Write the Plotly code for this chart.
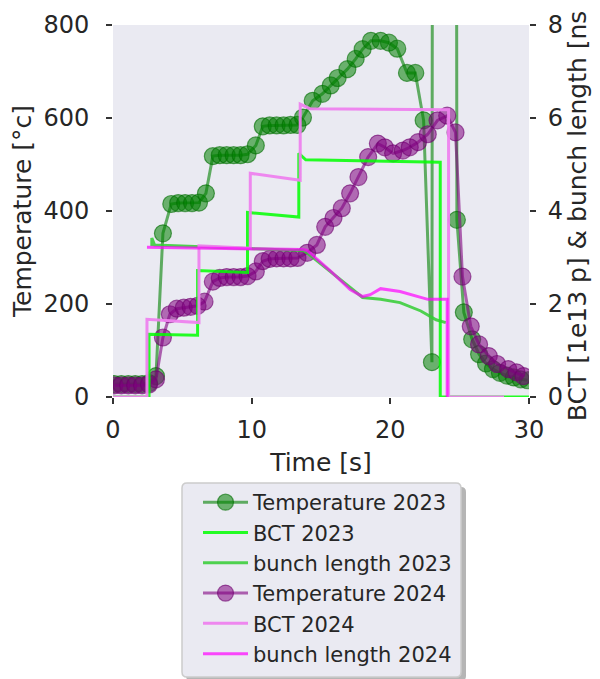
import plotly.graph_objects as go

# ---------------- data ----------------
t_temp_2023 = [0.1, 0.6, 1.1, 1.6, 2.1, 2.6, 3.1, 3.6, 4.2, 4.7, 5.2, 5.7, 6.2, 6.7,
               7.2, 7.7, 8.2, 8.7, 9.2, 9.7, 10.3, 10.8, 11.3, 11.8, 12.3, 12.8, 13.3,
               13.7, 14.4, 15.1, 15.7, 16.2, 16.9, 17.5, 18.0, 18.6, 19.3, 19.9, 20.5,
               21.2, 21.8, 22.4, 23.0, 23.1, 24.7, 24.8, 25.3, 25.9, 26.4, 26.9, 27.4,
               27.9, 28.4, 28.9, 29.4, 29.9]
temp_2023 = [28, 28, 28, 28, 28, 30, 45, 352, 415, 417, 417, 417, 418, 438,
             518, 520, 520, 520, 520, 522, 541, 582, 584, 584, 584, 585, 585,
             601, 637, 652, 670, 686, 705, 727, 748, 766, 766, 762, 749,
             697, 697, 595, 75, 3000, 3000, 381, 182, 124, 92, 72, 60,
             52, 46, 42, 38, 36]

t_temp_2024 = [0.1, 0.6, 1.1, 1.6, 2.1, 2.6, 3.1, 3.6, 4.1, 4.6, 5.1, 5.6, 6.1, 6.6,
               7.2, 7.7, 8.2, 8.7, 9.2, 9.7, 10.3, 10.8, 11.3, 11.8, 12.3, 12.8, 13.3,
               14.0, 14.7, 15.3, 15.9, 16.5, 17.1, 17.7, 18.4, 19.1, 19.6, 20.2, 20.9,
               21.4, 22.0, 22.7, 23.4, 24.1, 24.7, 25.2, 25.8, 26.4, 27.1, 27.7, 28.5,
               29.1, 29.6]
temp_2024 = [25, 25, 25, 25, 25, 27, 38, 128, 178, 190, 192, 194, 196, 205,
             248, 256, 258, 258, 258, 260, 270, 292, 297, 298, 298, 298, 299,
             310, 327, 366, 385, 406, 438, 473, 516, 545, 537, 524, 530,
             537, 548, 565, 595, 605, 569, 259, 152, 113, 88, 71, 60,
             53, 45]

t_bct_2023 = [0, 2.6, 2.6, 6.1, 6.1, 9.7, 9.7, 13.4, 13.4, 13.9, 23.6, 23.6, 30]
bct_2023 = [0, 0, 1.35, 1.33, 2.72, 2.68, 3.97, 3.87, 5.24, 5.1, 5.05, 0, 0]

t_bl_2023 = [2.8, 2.8, 3.0, 13.7, 14.0, 15.6, 17.1, 18.0, 19.3, 20.7, 22.2, 23.3, 24.0]
bl_2023 = [3.25, 3.42, 3.27, 3.15, 3.1, 2.72, 2.35, 2.14, 2.1, 2.03, 1.85, 1.66, 1.6]

t_bct_2024 = [0, 2.45, 2.45, 6.2, 6.2, 9.9, 9.9, 13.5, 13.5, 14.2, 24.2, 24.2, 28.2]
bct_2024 = [0, 0, 1.67, 1.6, 3.25, 3.2, 4.81, 4.66, 6.3, 6.2, 6.18, 0, 0]

t_bl_2024 = [2.45, 13.7, 14.0, 15.65, 17.1, 18.0, 18.55, 19.3, 20.7, 22.7, 24.1, 24.1]
bl_2024 = [3.22, 3.17, 3.15, 2.72, 2.31, 2.16, 2.2, 2.33, 2.27, 2.1, 2.1, 0]

x_ticks = [0, 10, 20, 30]
temp_ticks = [0, 200, 400, 600, 800]
right_ticks = [0, 2, 4, 6, 8]

# ---------------- figure ----------------
FONT = "DejaVu Sans"
TXT = "#262626"
OFF = 8                      # page body margin of the browser
W, H = 600, 700              # a bit taller than the window so the legend never pushes margins
ML, MT = 113 - OFF, 25 - OFF
MR = W - (529 - OFF)
MB = H - (397 - OFF)
PW, PH = W - ML - MR, H - MT - MB


def px_x(p):  # page pixel -> paper x
    return (p - OFF - ML) / PW


def px_y(p):  # page pixel -> paper y
    return (H - MB - (p - OFF)) / PH


def rounded_box(x0, y0, x1, y1, r):
    """SVG path (paper units) of a rounded rectangle given in page pixels."""
    X0, X1 = px_x(x0), px_x(x1)
    Yt, Yb = px_y(y0), px_y(y1)
    rx, ry = r / PW, r / PH
    return (f"M{X0 + rx},{Yt} L{X1 - rx},{Yt} Q{X1},{Yt} {X1},{Yt - ry} "
            f"L{X1},{Yb + ry} Q{X1},{Yb} {X1 - rx},{Yb} "
            f"L{X0 + rx},{Yb} Q{X0},{Yb} {X0},{Yb + ry} "
            f"L{X0},{Yt - ry} Q{X0},{Yt} {X0 + rx},{Yt} Z")


fig = go.Figure()

fig.add_trace(go.Scatter(
    x=t_temp_2023, y=temp_2023, name="Temperature 2023", mode="lines+markers",
    line=dict(color="rgba(0,128,0,0.6)", width=3),
    marker=dict(size=17, color="rgba(0,128,0,0.55)",
                line=dict(color="rgba(0,110,0,0.6)", width=1.2)),
    legendrank=1, yaxis="y"))
fig.add_trace(go.Scatter(
    x=t_temp_2024, y=temp_2024, name="Temperature 2024", mode="lines+markers",
    line=dict(color="rgba(128,0,128,0.6)", width=3),
    marker=dict(size=17, color="rgba(128,0,128,0.55)",
                line=dict(color="rgba(110,0,110,0.6)", width=1.2)),
    legendrank=4, yaxis="y"))
fig.add_trace(go.Scatter(
    x=t_bct_2023, y=bct_2023, name="BCT 2023", mode="lines",
    line=dict(color="rgba(0,255,0,0.85)", width=3),
    legendrank=2, yaxis="y2"))
fig.add_trace(go.Scatter(
    x=t_bl_2023, y=bl_2023, name="bunch length 2023", mode="lines",
    line=dict(color="rgba(50,205,50,0.85)", width=3),
    legendrank=3, yaxis="y2"))
fig.add_trace(go.Scatter(
    x=t_bct_2024, y=bct_2024, name="BCT 2024", mode="lines",
    line=dict(color="rgba(238,130,238,0.95)", width=3),
    legendrank=5, yaxis="y2"))
fig.add_trace(go.Scatter(
    x=t_bl_2024, y=bl_2024, name="bunch length 2024", mode="lines",
    line=dict(color="rgba(255,0,255,0.7)", width=3),
    legendrank=6, yaxis="y2"))

axis_common = dict(showgrid=False, zeroline=False, showline=False, automargin=False,
                   ticks="outside", ticklen=6, tickwidth=1.8, tickcolor="#333333",
                   tickfont=dict(family=FONT, size=24, color=TXT))

# legend frame (with a matplotlib-like drop shadow) drawn as shapes
shapes = [
    dict(type="path", xref="paper", yref="paper", layer="above",
         path=rounded_box(186, 487, 466, 681, 5),
         fillcolor="rgba(120,120,120,0.55)", line=dict(width=0)),
    dict(type="path", xref="paper", yref="paper", layer="above",
         path=rounded_box(182, 483, 461, 677, 5),
         fillcolor="#eaeaf2", line=dict(color="#cccccc", width=1.5)),
]

fig.update_layout(
    width=W, height=H,
    margin=dict(l=ML, r=MR, t=MT, b=MB),
    paper_bgcolor="white", plot_bgcolor="#eaeaf2",
    font=dict(family=FONT, color=TXT),
    showlegend=True,
    shapes=shapes,
    xaxis=dict(range=[0, 30], tickvals=x_ticks, ticklabelstandoff=5, **axis_common,
               title=dict(text="Time [s]", font=dict(family=FONT, size=25, color=TXT), standoff=10)),
    yaxis=dict(range=[0, 800], tickvals=temp_ticks, ticklabelstandoff=12, **axis_common,
               title=dict(text="Temperature [°c]", font=dict(family=FONT, size=25, color=TXT), standoff=6)),
    yaxis2=dict(range=[0, 8], tickvals=right_ticks, overlaying="y", side="right",
                ticklabelstandoff=7, **axis_common,
                title=dict(text="BCT [1e13 p] & bunch length [ns]", font=dict(family=FONT, size=25, color=TXT), standoff=0)),
    legend=dict(x=px_x(198), xanchor="left", y=px_y(482), yanchor="top",
                bgcolor="rgba(0,0,0,0)", borderwidth=0, itemwidth=45,
                font=dict(family=FONT, size=21, color=TXT)),
)

fig.write_html("out.html")
